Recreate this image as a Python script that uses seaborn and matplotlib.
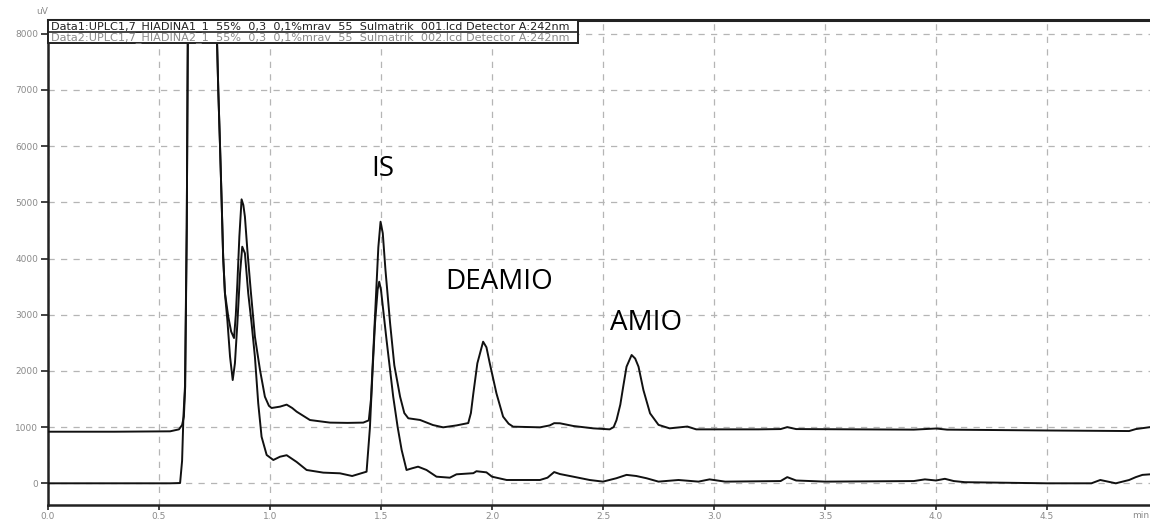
import matplotlib
matplotlib.use("Agg")
import matplotlib.pyplot as plt
from matplotlib.patches import Rectangle
from matplotlib.ticker import MultipleLocator
import seaborn as sns
import pandas as pd

# Data1 chromatogram (sample, upper trace), time in min, signal in uV
time_1 = [0.00, 0.30, 0.55, 0.59, 0.604, 0.612, 0.618, 0.625, 0.632, 0.64, 0.75, 0.757,
          0.762, 0.767, 0.775, 0.782, 0.789, 0.797, 0.812, 0.825, 0.838, 0.846, 0.853,
          0.862, 0.872, 0.880, 0.887, 0.898, 0.913, 0.932, 0.955, 0.977, 0.995, 1.007,
          1.045, 1.075, 1.10, 1.12, 1.18, 1.27, 1.35, 1.42, 1.445, 1.455, 1.466, 1.477,
          1.488, 1.498, 1.508, 1.52, 1.541, 1.56, 1.586, 1.605, 1.623, 1.676, 1.734,
          1.78, 1.84, 1.893, 1.905, 1.916, 1.934, 1.96, 1.975, 1.99, 2.02, 2.05, 2.075,
          2.095, 2.216, 2.26, 2.28, 2.306, 2.366, 2.456, 2.53, 2.548, 2.561, 2.578,
          2.591, 2.606, 2.629, 2.645, 2.66, 2.682, 2.712, 2.75, 2.80, 2.88, 2.92, 3.20,
          3.30, 3.33, 3.37, 3.90, 4.00, 4.05, 4.50, 4.87, 4.90, 4.965]
signal_1 = [918, 918, 925, 960, 1037, 1185, 1720, 4560, 9500, 12000, 12000, 8500,
            7770, 7000, 5990, 5040, 4030, 3385, 2965, 2700, 2585, 3000, 3560,
            4390, 5053, 4950, 4745, 4150, 3440, 2610, 2015, 1541, 1380, 1340,
            1364, 1400, 1340, 1275, 1126, 1080, 1075, 1080, 1120, 1500, 2400, 3300,
            4200, 4655, 4450, 3800, 2847, 2100, 1541, 1250, 1157, 1127, 1037,
            996, 1030, 1072, 1250, 1601, 2135, 2520, 2420, 2135, 1601, 1186, 1060,
            1008, 996, 1030, 1070, 1068, 1020, 978, 960, 1000, 1126, 1400,
            1719, 2075, 2283, 2220, 2075, 1660, 1245, 1040, 978, 1010, 960, 960,
            965, 1000, 965, 955, 975, 955, 940, 930, 965, 1000]

# Data2 chromatogram (blank with internal standard, lower trace)
time_2 = [0.00, 0.55, 0.595, 0.604, 0.61, 0.617, 0.625, 0.632, 0.64, 0.75, 0.757, 0.762,
          0.767, 0.775, 0.782, 0.789, 0.797, 0.808, 0.82, 0.832, 0.842, 0.853, 0.865,
          0.875, 0.887, 0.902, 0.917, 0.932, 0.947, 0.962, 0.985, 1.015, 1.045, 1.075,
          1.12, 1.165, 1.24, 1.315, 1.37, 1.435, 1.45, 1.462, 1.473, 1.485, 1.492, 1.50,
          1.525, 1.555, 1.575, 1.593, 1.615, 1.64, 1.667, 1.705, 1.75, 1.81, 1.84,
          1.916, 1.93, 1.975, 2.0, 2.066, 2.216, 2.25, 2.28, 2.306, 2.366, 2.44, 2.50,
          2.56, 2.606, 2.65, 2.696, 2.75, 2.84, 2.93, 2.98, 3.05, 3.30, 3.33, 3.37,
          3.50, 3.90, 3.95, 4.00, 4.04, 4.08, 4.13, 4.50, 4.70, 4.74, 4.81, 4.87,
          4.90, 4.93, 4.965]
signal_2 = [0, 0, 5, 400, 1185, 1720, 4560, 9500, 12000, 12000, 8500, 7770,
            7000, 5990, 5040, 4030, 3385, 2900, 2253, 1838, 2135, 2847, 3737,
            4210, 4093, 3380, 2847, 2253, 1423, 829, 504, 415, 473, 500,
            380, 237, 190, 178, 130, 207, 984, 2000, 2847, 3450, 3587, 3440,
            2550, 1541, 1000, 593, 237, 267, 296, 237, 118, 100, 160,
            180, 215, 195, 118, 59, 59, 100, 200, 165, 118, 59, 30,
            90, 150, 130, 90, 30, 59, 30, 70, 30, 40, 110, 50,
            30, 40, 70, 50, 80, 40, 20, 0, 0, 59, 0, 59,
            110, 150, 160]

# Peak annotations: label, retention time, label height (uV)
peak_labels = ["IS", "DEAMIO", "AMIO"]
peak_label_x = [1.51, 2.03, 2.694]
peak_label_y = [5600, 3580, 2850]

x_tick_labels = ["0.0", "0.5", "1.0", "1.5", "2.0", "2.5", "3.0", "3.5", "4.0", "4.5"]
y_tick_labels = ["0", "1000", "2000", "3000", "4000", "5000", "6000", "7000", "8000"]

header_lines = [
    "Data1:UPLC1,7_HIADINA1_1  55%  0,3  0,1%mrav  55  Sulmatrik  001.lcd Detector A:242nm",
    "Data2:UPLC1,7_HIADINA2_1  55%  0,3  0,1%mrav  55  Sulmatrik  002.lcd Detector A:242nm",
]

sns.set_style("white")
plt.rcParams["font.family"] = ["DejaVu Sans"]

W, H = 1150, 522
fig = plt.figure(figsize=(W / 100, H / 100), dpi=100)
ax = fig.add_axes([48 / W, 1 - 505 / H, 1 - 48 / W, (505 - 20) / H])

df1 = pd.DataFrame({"time": time_1, "signal": signal_1})
df2 = pd.DataFrame({"time": time_2, "signal": signal_2})
for df in (df1, df2):
    sns.lineplot(data=df, x="time", y="signal", ax=ax, color="#111111",
                 linewidth=1.4, estimator=None, sort=False, zorder=3)

ax.set_xlim(0, 4.964)
ax.set_ylim(-386, 8244)
ax.set_xlabel("")
ax.set_ylabel("")

ax.xaxis.set_minor_locator(MultipleLocator(0.1))
ax.yaxis.set_minor_locator(MultipleLocator(200))
ax.set_xticks([i * 0.5 for i in range(len(x_tick_labels))])
ax.set_xticklabels(x_tick_labels)
ax.set_yticks([i * 1000 for i in range(len(y_tick_labels))])
ax.set_yticklabels(y_tick_labels)

ax.tick_params(axis="both", which="both", direction="out", colors="#222222",
               labelcolor="#8a8a8a", labelsize=6.5, width=1.2)
ax.tick_params(axis="y", which="major", length=5, pad=2)
ax.tick_params(axis="y", which="minor", length=3)
ax.tick_params(axis="x", which="major", length=3.5, pad=1.5)
ax.tick_params(axis="x", which="minor", length=3.5)
ax.tick_params(left=True, bottom=True)

ax.grid(True, which="major", linestyle=(0, (5, 5)), color="#b5b5b5", linewidth=0.9)
for side in ("left", "bottom", "top"):
    ax.spines[side].set_visible(True)
    ax.spines[side].set_color("#222222")
ax.spines["left"].set_linewidth(1.8)
ax.spines["bottom"].set_linewidth(1.8)
ax.spines["top"].set_linewidth(2.2)
ax.spines["right"].set_visible(False)

# header legend box with the two data file names
px = lambda x, y: (x / W, 1 - y / H)
x0, x1, y0, ym, y1 = 48, 578, 20, 31.5, 43
box = Rectangle(px(x0, y1), (x1 - x0) / W, (y1 - y0) / H, transform=fig.transFigure,
                facecolor="white", edgecolor="#222222", linewidth=1.4, zorder=5)
fig.add_artist(box)
fig.add_artist(plt.Line2D([x0 / W, x1 / W], [1 - ym / H, 1 - ym / H],
                          transform=fig.transFigure, color="#222222", linewidth=1.2, zorder=6))
fig.text(*px(51, 26.2), header_lines[0], fontsize=8.1, color="#222222",
         va="center", ha="left", zorder=7)
fig.text(*px(51, 37.6), header_lines[1], fontsize=8.1, color="#8a8a8a",
         va="center", ha="left", zorder=7)

# unit labels
fig.text(*px(42, 12), "uV", fontsize=6.5, color="#8a8a8a", ha="center", va="center")
fig.text(*px(1149, 516), "min", fontsize=6.5, color="#8a8a8a", ha="right", va="center")

for label, lx, ly in zip(peak_labels, peak_label_x, peak_label_y):
    ax.text(lx, ly, label, fontsize=20, family="Open Sans", color="black",
            ha="center", va="center", zorder=8)

fig.savefig("out.png", dpi=100)
